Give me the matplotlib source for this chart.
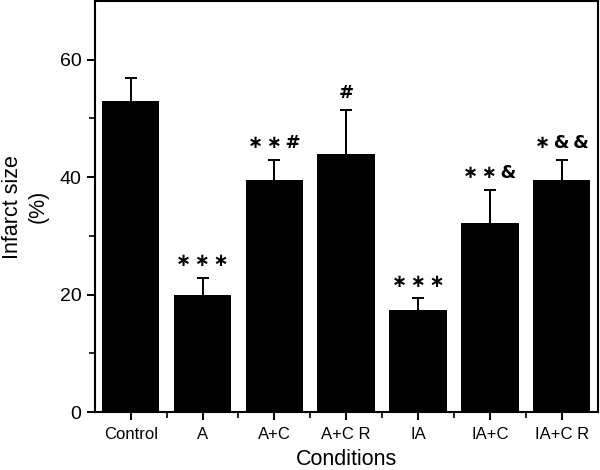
import matplotlib.pyplot as plt
import numpy as np

plt.rcParams['font.family'] = ['Liberation Sans', 'DejaVu Sans']

# ===== DATA =====
conditions = ["Control", "A", "A+C", "A+C R", "IA", "IA+C", "IA+C R"]
infarct = [53.0, 20.0, 39.5, 43.9, 17.4, 32.2, 39.5]
sem = [3.9, 2.9, 3.4, 7.6, 2.0, 5.6, 3.5]
marks = ["", "∗∗∗", "∗∗#", "#", "∗∗∗", "∗∗&", "∗&&"]

# ===== PLOT =====
fig = plt.figure(figsize=(6, 4.7), dpi=100)
ax = fig.add_axes([0.158, 0.123, 0.838, 0.875])

x = np.arange(len(conditions))
ax.bar(x, infarct, width=0.8, color="black")
eb = ax.errorbar(x, infarct, yerr=[np.zeros(len(sem)), sem], fmt="none",
                 ecolor="black", elinewidth=1.4, capsize=4, capthick=1.4)
eb[1][0].set_visible(False)  # only the upper cap

for xi, v, e, m in zip(x, infarct, sem, marks):
    if m:
        ax.annotate("\u2009".join(m), (xi, v + e), xytext=(0, 12), textcoords="offset points",
                    ha="center", va="center", fontsize=13, fontweight="bold",
                    family=["DejaVu Sans"])

ax.set_xlim(-0.5, 6.5)
ax.set_ylim(0, 70)
ax.set_yticks([0, 20, 40, 60])
ax.set_yticks([10, 30, 50], minor=True)
ax.set_xticks(x)
ax.set_xticks(x[:-1] + 0.5, minor=True)
ax.set_xticklabels(conditions, fontsize=12)
ax.tick_params(axis="y", labelsize=14)
ax.tick_params(axis="x", pad=5)
ax.tick_params(which="major", direction="out", length=6, width=1.4)
ax.tick_params(which="minor", direction="out", length=4, width=1.2)

for s in ax.spines.values():
    s.set_linewidth(1.5)

ax.set_xlabel("Conditions", fontsize=15.5, labelpad=5)
ax.set_ylabel("Infarct size\n(%)", fontsize=15.5, labelpad=8, linespacing=1.3)

fig.savefig("out.png", dpi=100)
